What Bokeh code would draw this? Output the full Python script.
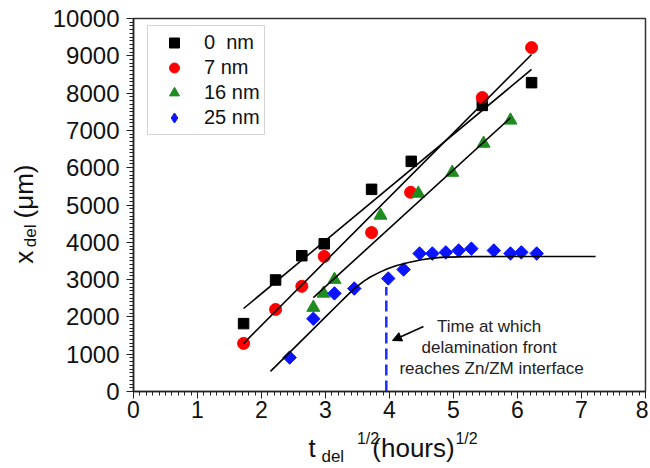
import numpy as np
from bokeh.plotting import figure
from bokeh.layouts import row, column
from bokeh.models import (Range1d, SingleIntervalTicker, Legend, LegendItem,
                          Label, Arrow, NormalHead)
from bokeh.embed import file_html
from bokeh.resources import INLINE

# ---------------- data ----------------
t_0nm = [1.72, 2.22, 2.63, 2.98, 3.72, 4.34, 5.45, 6.22]
x_0nm = [1820, 2990, 3640, 3960, 5420, 6170, 7670, 8280]

t_7nm = [1.72, 2.22, 2.63, 2.98, 3.72, 4.33, 5.45, 6.22]
x_7nm = [1290, 2200, 2820, 3620, 4260, 5340, 7880, 9220]

t_16nm = [2.81, 2.97, 3.14, 3.86, 4.45, 4.98, 5.47, 5.89]
x_16nm = [2250, 2630, 3000, 4720, 5310, 5870, 6650, 7270]

t_25nm = [2.44, 2.81, 3.14, 3.45, 3.98, 4.22, 4.47, 4.67, 4.88, 5.08,
          5.28, 5.63, 5.89, 6.06, 6.30]
x_25nm = [910, 1950, 2630, 2760, 3030, 3270, 3700, 3700, 3730, 3780,
          3830, 3780, 3700, 3730, 3700]

# fitted lines
fit_0nm_t = [1.72, 6.22]
fit_0nm_x = [2225, 8633]
fit_7nm_t = [1.72, 6.22]
fit_7nm_x = [1290, 9035]
fit_16nm_t = [2.81, 5.89]
fit_16nm_x = [2515, 7340]
fit_25nm_t = [2.14, 2.5, 3.0, 3.2, 3.3, 3.45, 3.6, 3.7, 3.85, 3.97, 4.1,
              4.28, 4.5, 4.65, 4.8, 5.2, 6.0, 7.22]
fit_25nm_x = [540, 1150, 2000, 2340, 2510, 2760, 2960, 3070, 3200, 3290,
              3370, 3450, 3530, 3570, 3595, 3615, 3620, 3620]

# time at which the delamination front reaches Zn/ZM interface
front_t = [3.95, 3.95]
front_x = [0, 2800]

labels = ["0  nm", "7 nm", "16 nm", "25 nm"]

FONT = "Liberation Sans"

LEFT_W = 46
MAIN_W = 602
MAIN_H = 428
TOTAL_H = 466

# ---------------- main plot ----------------
p = figure(width=MAIN_W, height=MAIN_H, x_range=Range1d(0, 8), y_range=Range1d(0, 10000),
           output_backend="svg", toolbar_location=None,
           min_border_left=87, min_border_right=3, min_border_top=18,
           min_border_bottom=37)
p.grid.visible = False
p.outline_line_color = "#333333"
p.outline_line_width = 1.5
p.background_fill_color = "white"
p.border_fill_color = "white"

p.xaxis.ticker = SingleIntervalTicker(interval=1, num_minor_ticks=10)
p.yaxis.ticker = SingleIntervalTicker(interval=1000, num_minor_ticks=10)
for ax in (p.xaxis[0], p.yaxis[0]):
    ax.axis_line_color = "#222222"
    ax.axis_line_width = 1.5
    ax.major_tick_line_color = "#222222"
    ax.minor_tick_line_color = "#222222"
    ax.major_tick_in = 0
    ax.major_tick_out = 7
    ax.minor_tick_in = 0
    ax.minor_tick_out = 4
    ax.major_label_text_font = FONT
    ax.major_label_text_color = "#111111"
p.xaxis.major_label_text_font_size = "23px"
p.yaxis.major_label_text_font_size = "24px"
p.xaxis.major_label_standoff = 2
p.yaxis.major_label_standoff = 7

# markers
r0 = p.scatter(t_0nm, x_0nm, marker="square", size=10.5, color="black")
r7 = p.scatter(t_7nm, x_7nm, marker="circle", size=12, color="#ff0000")
r16 = p.scatter(t_16nm, x_16nm, marker="triangle", size=13, color="#1e8c1e")
# diamond glyph (used for the legend key), covered by the rotated squares below
r25_key = p.scatter(t_25nm, x_25nm, marker="diamond", size=12, color="#0a14ff")
r25 = p.scatter(t_25nm, x_25nm, marker="square", angle=np.pi / 4, size=9.5,
                color="#0a14ff")

# fitted lines
for tt, xx in ((fit_0nm_t, fit_0nm_x), (fit_7nm_t, fit_7nm_x),
               (fit_16nm_t, fit_16nm_x), (fit_25nm_t, fit_25nm_x)):
    p.line(tt, xx, line_color="black", line_width=1.6)

p.line(front_t, front_x, line_color="#1a2cff", line_width=2.5, line_dash="11 5")

legend = Legend(items=[LegendItem(label=labels[0], renderers=[r0]),
                       LegendItem(label=labels[1], renderers=[r7]),
                       LegendItem(label=labels[2], renderers=[r16]),
                       LegendItem(label=labels[3], renderers=[r25_key])],
                location=(14, 256), margin=0, padding=4, spacing=0,
                glyph_width=44, glyph_height=25, label_height=18,
                label_standoff=8, border_line_color="#aaaaaa",
                border_line_width=1, background_fill_color="white",
                label_text_font=FONT, label_text_font_size="20px",
                label_text_color="#111111")
p.add_layout(legend)


def dx(px):
    return (px - 133) / 64.0


def dy(py):
    return (391 - py) / 0.0373


# annotation
p.add_layout(Arrow(end=NormalHead(size=9, fill_color="black", line_color="black"),
                   x_start=dx(423), y_start=dy(326), x_end=dx(392), y_end=dy(340),
                   line_color="black", line_width=1.6))
for txt, py in (("Time  at which", 326), ("delamination  front", 347),
                ("reaches Zn/ZM interface", 368)):
    p.add_layout(Label(x=dx(491), y=dy(py), text=txt, text_align="center",
                       text_baseline="alphabetic", text_font=FONT,
                       text_font_size="17px", text_color="#222222"))


def blank_fig(w, h):
    f = figure(width=w, height=h, x_range=Range1d(0, w), y_range=Range1d(0, h),
               output_backend="svg", toolbar_location=None,
               x_axis_type=None, y_axis_type=None, min_border=0)
    f.grid.visible = False
    f.outline_line_color = None
    f.background_fill_color = "white"
    f.border_fill_color = "white"
    return f


# ---------------- y-axis title (left strip), centred pieces ----------------
yt = blank_fig(LEFT_W, MAIN_H)
for txt, cx, cy, fs in (("x", 23, 274, "26px"), ("del", 29.6, 249.5, "17px"),
                        ("(\u03bcm)", 23, 198.5, "26px")):
    yt.add_layout(Label(x=cx, y=MAIN_H - cy, text=txt, text_align="center",
                        text_baseline="middle", angle=np.pi / 2,
                        angle_units="rad", text_font=FONT, text_font_size=fs,
                        text_color="#111111"))

# ---------------- x-axis title (bottom strip), centred pieces ----------------
xt = blank_fig(LEFT_W + MAIN_W, TOTAL_H - MAIN_H)
for txt, cx, cy, fs in (("t", 311.6, 447, "26px"), ("del", 332.3, 456, "17px"),
                        ("1/2", 367.5, 437.5, "16px"), ("(hours)", 413, 447, "26px"),
                        ("1/2", 466, 437.5, "16px")):
    xt.add_layout(Label(x=cx, y=TOTAL_H - cy, text=txt, text_align="center",
                        text_baseline="middle", text_font=FONT,
                        text_font_size=fs, text_color="#111111"))

layout = column(row(yt, p, spacing=0), xt, spacing=0)

open("out.html", "w").write(file_html(layout, INLINE))
